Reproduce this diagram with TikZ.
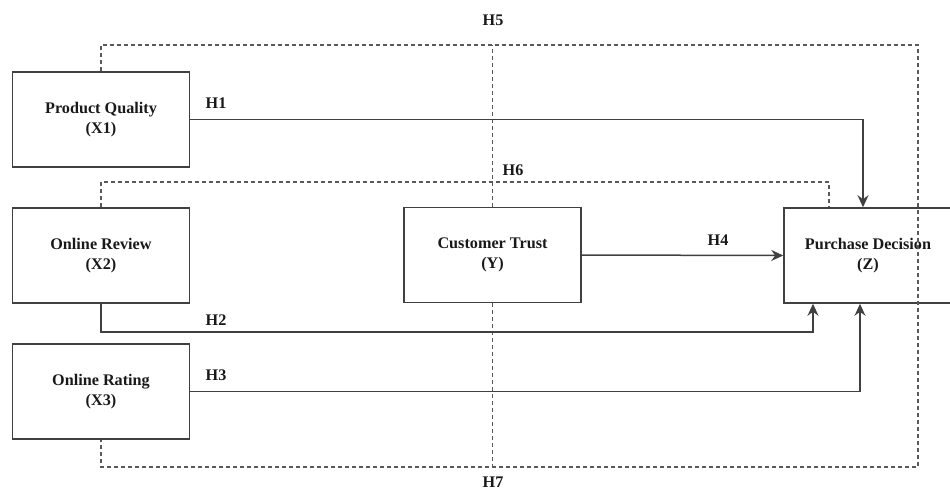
\documentclass[tikz,border=0pt]{standalone}
\usepackage{fontspec}
\setmainfont{Liberation Serif}
\usetikzlibrary{arrows.meta,calc}
\tikzset{every node/.style={font=\bfseries\fontsize{8.1}{10}\selectfont}}
\colorlet{boxcol}{black!75}
\colorlet{arrowcol}{black!75}
\colorlet{dashcol}{black!65}
\colorlet{labelcol}{black!90}

\begin{document}
\begin{tikzpicture}[x=0.5pt, y=-0.5pt, >={Stealth[length=6pt,width=5.5pt]}]

  % Canvas.
  \useasboundingbox (0,0) rectangle (950,488);

  % Variable boxes.
  \tikzset{varbox/.style={draw=boxcol, line width=0.75pt, align=center,
      minimum width=88.5pt, minimum height=47.5pt, text=labelcol}}
  \node[varbox] (X1) at (101,119.5) {Product Quality\\(X1)};
  \node[varbox] (X2) at (101,255.5) {Online Review\\(X2)};
  \node[varbox] (X3) at (101,391.5) {Online Rating\\(X3)};
  \node[varbox] (Y) at (492.5,255) {Customer Trust\\(Y)};
  \node[varbox, minimum width=84pt] (Z) at (868,255.5) {Purchase Decision\\(Z)};

  % Mediation paths (dashed).
  \coordinate (h5nw) at (101,45);
  \coordinate (h5ne) at (918,45);
  \coordinate (h5se) at (918,467);
  \coordinate (h6ne) at (829,182);
  \draw[dashed, dash pattern=on 2pt off 1.5pt, dashcol, line width=0.7pt]
    (X1.north) -- (h5nw) -- (h5ne) -- (h5se) -| (X3.south);
  \draw[dashed, dash pattern=on 2pt off 1.5pt, dashcol, line width=0.7pt]
    (Y.north) -- (Y.north |- h5nw);
  \draw[dashed, dash pattern=on 2pt off 1.5pt, dashcol, line width=0.7pt]
    (Y.south) -- (Y.south |- h5se);
  \draw[dashed, dash pattern=on 2pt off 1.5pt, dashcol, line width=0.7pt]
    (X2.north) |- (h6ne) -- (h6ne |- Z.north);

  % Direct paths.
  \draw[->, arrowcol, line width=0.75pt]
    (X1.east) -| ($(Z.north)+(-5,0)$);
  \draw[->, arrowcol, line width=0.75pt]
    (X2.south) -- ++(0,28) -| ($(Z.south)+(-55,0)$);
  \draw[->, arrowcol, line width=0.75pt]
    (X3.east) -| ($(Z.south)+(-8,0)$);
  \draw[->, arrowcol, line width=0.75pt] (Y.east) -- (Z.west);

  % Hypothesis labels.
  \node[text=labelcol] (H1) at (216,103) {H1};
  \node[text=labelcol] (H2) at (216,320) {H2};
  \node[text=labelcol] (H3) at (216,375) {H3};
  \node[text=labelcol] (H4) at (718,240) {H4};
  \node[text=labelcol] (H5) at (493,20) {H5};
  \node[text=labelcol] (H6) at (513,170) {H6};
  \node[text=labelcol] (H7) at (493,482) {H7};

\end{tikzpicture}
\end{document}
